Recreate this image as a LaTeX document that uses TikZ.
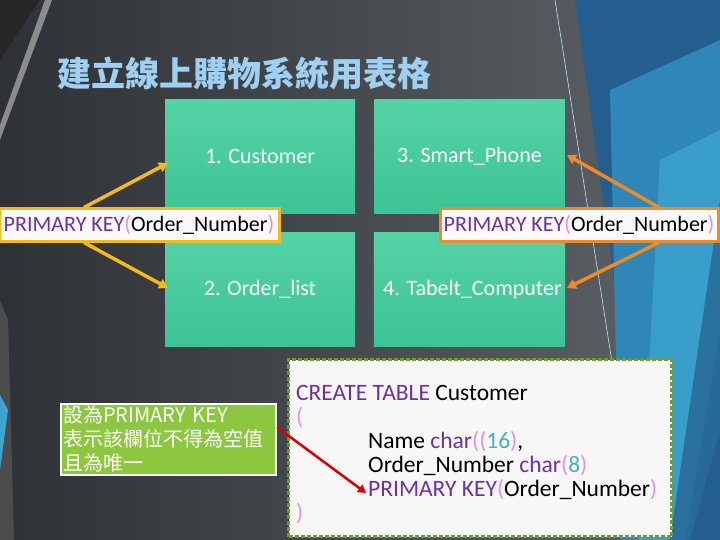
\documentclass[tikz,border=0pt]{standalone}
\usepackage{fontspec}
\setmainfont{Carlito}
\newfontfamily\cjk{Noto Sans CJK TC}
\usetikzlibrary{arrows.meta,shadings}
\definecolor{tealbox}{HTML}{3CC396}
\definecolor{tealtop}{HTML}{55D3A6}
\definecolor{pk}{HTML}{7030A0}
\definecolor{par}{HTML}{E58FE0}
\definecolor{num}{HTML}{4BACC6}
\definecolor{ylw}{HTML}{F4BA18}
\definecolor{org}{HTML}{F08A24}
\definecolor{lgreen}{HTML}{8DC63F}
\definecolor{dgreen}{HTML}{6E9B34}
\definecolor{titlec}{HTML}{9FD0F2}
\definecolor{bgdark}{HTML}{2E3236}
\definecolor{bglight}{HTML}{5F6469}
\definecolor{blA}{HTML}{245E8E}
\definecolor{blB}{HTML}{2F86B8}
\definecolor{blC}{HTML}{3DA5D0}
\tikzset{
  tbl/.style={draw=none,top color=tealtop,bottom color=tealbox,minimum width=190pt,minimum height=114pt,text=white,font=\fontsize{22}{24}\selectfont},
  pkbox/.style={fill=white!96!gray,line width=3pt,inner sep=2pt,font=\fontsize{22}{24}\selectfont},
  arr/.style={line width=3.5pt,-{Triangle[length=9pt,width=10pt]}},
}
\newcommand{\pkt}{\textcolor{pk}{PRIMARY KEY}\textcolor{par}{(}Order\_Number\textcolor{par}{)}}
\begin{document}
\begin{tikzpicture}[x=1pt,y=-1pt]
\useasboundingbox (0,0) rectangle (720,540);
\shade[left color=bgdark,right color=bglight] (0,0) rectangle (720,540);
\fill[black!85] (0,0) -- (40,0) -- (0,60) -- cycle;
\fill[black!45] (45,0) -- (52,0) -- (0,140) -- (0,125) -- cycle;
\fill[blA] (575,0) -- (720,0) -- (720,540) -- (650,540) -- cycle;
\fill[blB] (610,90) -- (720,40) -- (720,430) -- (690,540) -- (620,540) -- cycle;
\fill[blC,opacity=0.8] (660,160) -- (720,130) -- (720,330) -- (685,540) -- (640,540) -- cycle;
\fill[blA,opacity=0.7] (720,200) -- (720,540) -- (670,540) -- cycle;
\draw[white!70!cyan,line width=0.6pt] (555,0) -- (640,540);
\fill[black!70] (0,300) -- (8,320) -- (14,540) -- (0,540) -- cycle;
\fill[blC] (0,395) -- (8,410) -- (0,470) -- cycle;

\node[anchor=west,text=titlec,font=\cjk\bfseries\fontsize{34}{38}\selectfont] (title) at (54,73) {建立線上購物系統用表格};

\node[tbl] (c1) at (260,156.5) {1. Customer};
\node[tbl] (c3) at (469.5,156.5) {3. Smart\_Phone};
\node[tbl] (c2) at (260,289.5) {2. Order\_list};
\node[tbl] (c4) at (469.5,289.5) {\hspace*{6pt}4. Tabelt\_Computer};

\node[pkbox,draw=ylw,minimum width=280pt,minimum height=32pt] (pl) at (139,225) {\pkt};
\node[pkbox,draw=org,minimum width=278pt,minimum height=32pt] (pr) at (579,225) {\pkt};

\coordinate (a1) at (168,163);
\coordinate (a2) at (168,288);
\coordinate (a3) at (567,155);
\coordinate (a4) at (567,288);
\draw[arr,ylw] ([xshift=-55pt]pl.north) -- (a1);
\draw[arr,ylw] ([xshift=-55pt]pl.south) -- (a2);
\draw[arr,org] ([xshift=80pt]pr.north) -- (a3);
\draw[arr,org] ([xshift=80pt]pr.south) -- (a4);

\node[fill=lgreen,draw=white,line width=2pt,text width=211pt,minimum height=58pt,text=white,align=left,anchor=north west,inner sep=2pt,font=\cjk\fontsize{20}{24}\selectfont] (g) at (60,403) {設為PRIMARY KEY\\表示該欄位不得為空值\\且為唯一};

\node[fill=white!94!gray,draw=dgreen,line width=3pt,dash pattern=on 4pt off 2pt,minimum width=383pt,minimum height=177pt,anchor=north west] (code) at (287,358) {};
\node[anchor=north west,align=left,inner sep=0pt,font=\fontsize{23.5}{24}\selectfont] (ct) at (296,385)
{\textcolor{pk}{CREATE TABLE} Customer\\ \textcolor{par}{(}\\
\hspace*{72pt}Name \textcolor{pk}{char}\textcolor{par}{(}\textcolor{par}{(}\textcolor{num}{16}\textcolor{par}{)},\\
\hspace*{72pt}Order\_Number \textcolor{pk}{char}\textcolor{par}{(}\textcolor{num}{8}\textcolor{par}{)}\\
\hspace*{72pt}\pkt\\ \textcolor{par}{)}};
\coordinate (rt) at (366,493);
\draw[red!85!black,line width=2.5pt,-{Triangle[length=8pt,width=9pt]}] ([yshift=12pt]g.east) -- (rt);
\end{tikzpicture}
\end{document}
